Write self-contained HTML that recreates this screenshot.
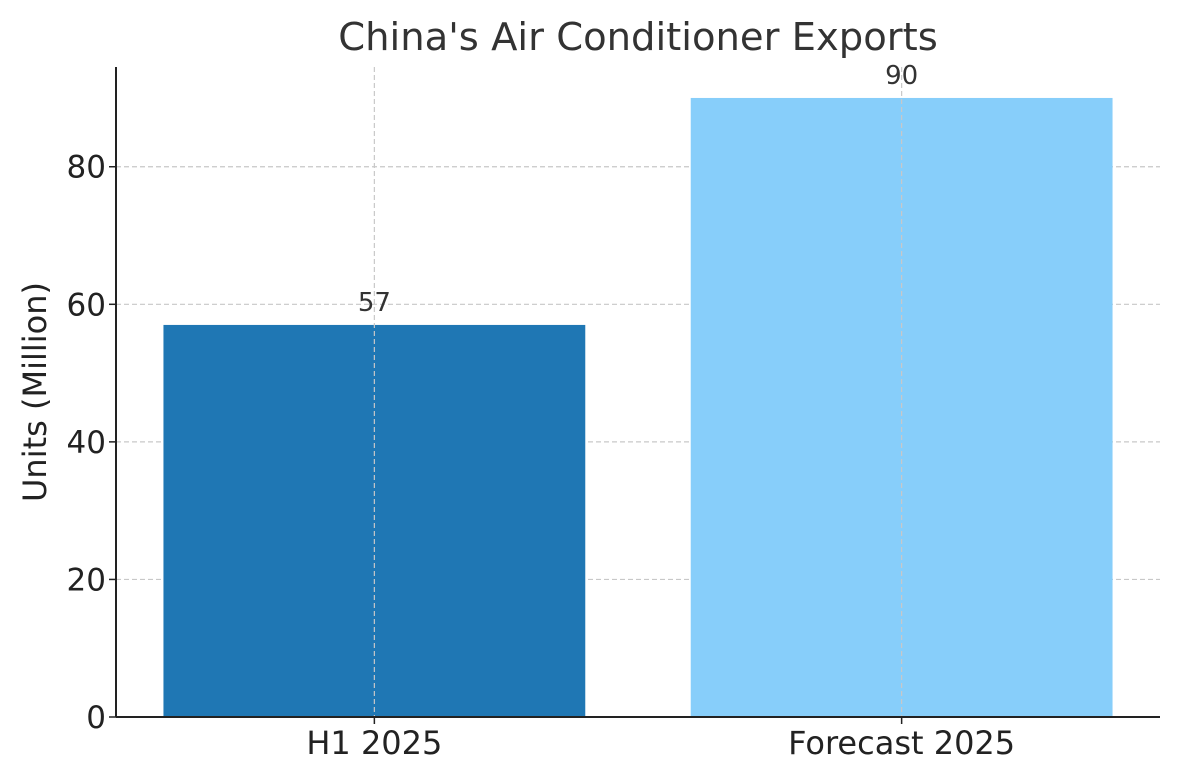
<!DOCTYPE html>
<html><head><meta charset="utf-8"><style>
body{margin:0;background:#fff;}
svg{display:block;font-family:"DejaVu Sans","Liberation Sans",sans-serif;}
</style></head><body>
<svg id="chart" width="1180" height="780" viewBox="0 0 1180 780" xmlns="http://www.w3.org/2000/svg">
<text x="638" y="50" text-anchor="middle" font-size="38.5" fill="#333">China's Air Conditioner Exports</text>
<text transform="translate(46,392) rotate(-90)" text-anchor="middle" font-size="32" fill="#222">Units (Million)</text>
<g id="grid"></g><g id="bars"></g><g id="axes"></g>
</svg>
<script>
const categories = ["H1 2025", "Forecast 2025"];
const values = [57, 90];
const colors = ["#1f77b4", "#87cefa"];
const yTicks = [0, 20, 40, 60, 80];
const L=116,R=1160,T=67,B=717,yMax=94.5,xMin=-0.49,xMax=1.49,bw=0.8;
const ns="http://www.w3.org/2000/svg";
const y=v=>B-(v/yMax)*(B-T);
const x=i=>L+(i-xMin)/(xMax-xMin)*(R-L);
function mk(t,a,p,txt){const e=document.createElementNS(ns,t);for(const k in a)e.setAttribute(k,a[k]);if(txt!==undefined)e.textContent=txt;p.appendChild(e);return e;}
const grid=document.getElementById('grid'),bars=document.getElementById('bars'),axes=document.getElementById('axes');
yTicks.forEach(v=>{
  const g=mk('line',{x1:L,x2:R,y1:y(v),y2:y(v),stroke:'#c8c8c8','stroke-dasharray':'5,3','stroke-width':1.2},grid);
  
  
  const tk=mk('line',{x1:L-7,x2:L,y1:y(v),y2:y(v),stroke:'#222','stroke-width':1.5},axes);
  
  
  const t=mk('text',{x:L-10,y:y(v)+11,'text-anchor':'end','font-size':31,fill:'#222'},axes,String(v));
  
  
});
categories.forEach((c,i)=>{
  const x0=x(i-bw/2),x1=x(i+bw/2);
  const r=mk('rect',{x:x0,y:y(values[i]),width:x1-x0,height:B-y(values[i]),fill:colors[i]},bars);
  
  
  const g=mk('line',{x1:x(i),x2:x(i),y1:T,y2:B,stroke:'#c8c8c8','stroke-dasharray':'5,3','stroke-width':1.2},bars);
  
  
  const v=mk('text',{x:x(i),y:y(values[i])-14,'text-anchor':'middle','font-size':26,fill:'#333'},bars,String(values[i]));
  
  
  const tk=mk('line',{x1:x(i),x2:x(i),y1:B,y2:B+7,stroke:'#222','stroke-width':1.5},axes);
  
  
  const t=mk('text',{x:x(i),y:B+37,'text-anchor':'middle','font-size':32,fill:'#222'},axes,c);
  
  
});
const ya=mk('line',{x1:L,x2:L,y1:T,y2:B,stroke:'#222','stroke-width':2},axes);


const xa=mk('line',{x1:L,x2:R,y1:B,y2:B,stroke:'#222','stroke-width':2},axes);


</script>
</body></html>
